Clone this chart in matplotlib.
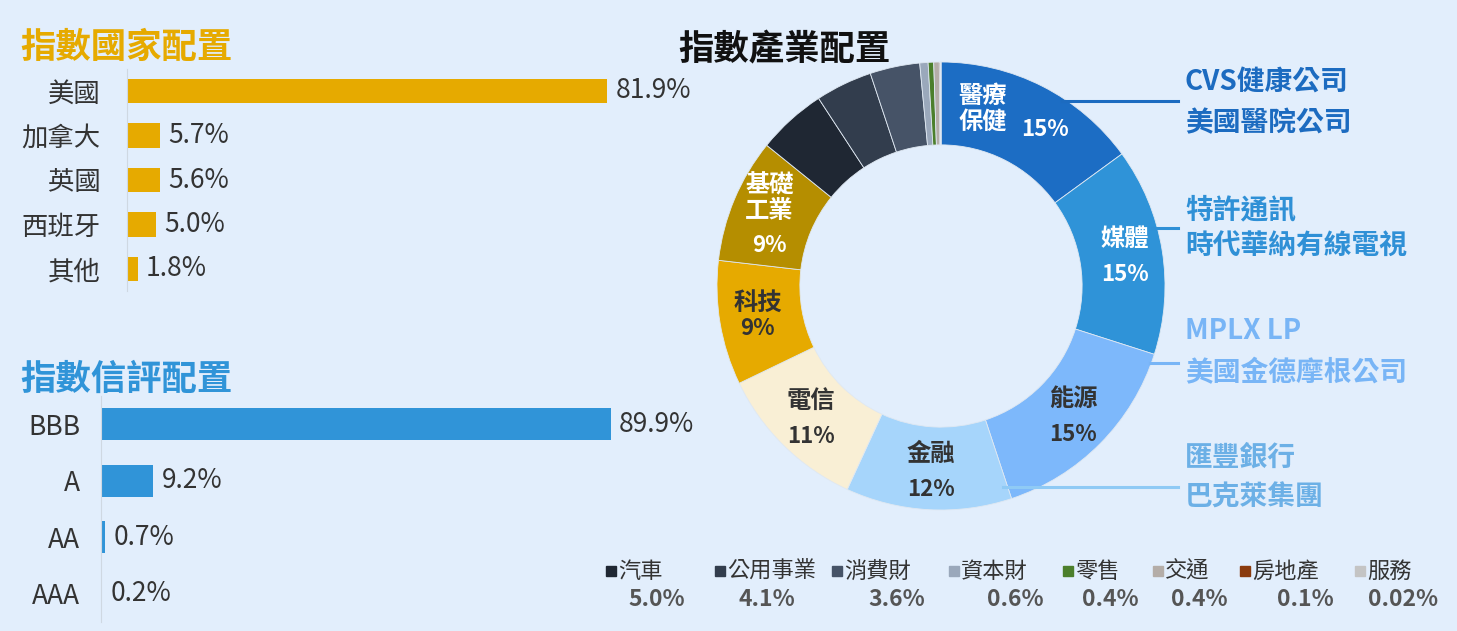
import numpy as np
import matplotlib.pyplot as plt

plt.rcParams['font.family'] = ['Noto Sans CJK TC', 'DejaVu Sans']

# 指數國家配置
countries = ['美國', '加拿大', '英國', '西班牙', '其他']
country_pct = [81.9, 5.7, 5.6, 5.0, 1.8]

# 指數信評配置
ratings = ['BBB', 'A', 'AA', 'AAA']
rating_pct = [89.9, 9.2, 0.7, 0.2]

# 指數產業配置
sectors = ['醫療保健', '媒體', '能源', '金融', '電信', '科技', '基礎工業',
           '汽車', '公用事業', '消費財', '資本財', '零售', '交通', '房地產', '服務']
sector_pct = [15, 15, 15, 12, 11, 9, 9, 5.0, 4.1, 3.6, 0.6, 0.4, 0.4, 0.1, 0.02]
sector_labels = ['15%', '15%', '15%', '12%', '11%', '9%', '9%',
                 '5.0%', '4.1%', '3.6%', '0.6%', '0.4%', '0.4%', '0.1%', '0.02%']
sector_colors = ['#1c6dc4', '#2f93d8', '#7db8fb', '#a6d5fb', '#f9efd5', '#e6aa00', '#b58e00',
                 '#1f2733', '#323d4d', '#465367', '#9aa8bb', '#4c7f2c', '#b4ada8', '#8a3b0e', '#c4c4c4']

# 代表成分
holdings = [['CVS健康公司', '美國醫院公司'],
            ['特許通訊', '時代華納有線電視'],
            ['MPLX LP', '美國金德摩根公司'],
            ['匯豐銀行', '巴克萊集團']]
holding_colors = ['#1c6bc0', '#2f90d6', '#78b5f6', '#6cb0e6']
line_colors = ['#1c6bc0', '#2f90d6', '#78b5f6', '#8fcaf5']

bg = '#e2eefc'
W, H = 1457, 631
fig = plt.figure(figsize=(W / 100, H / 100), dpi=100, facecolor=bg)


def px_axes(x0, y0, x1, y1):
    return fig.add_axes([x0 / W, 1 - y1 / H, (x1 - x0) / W, (y1 - y0) / H])


# ---- 國家 bar
ax1 = px_axes(127, 68.75, 127 + 586, 291.25)
ax1.set_facecolor('none')
b1 = ax1.barh(range(len(countries)), country_pct, height=0.54, color='#e6aa00')
ax1.set_xlim(0, 100)
ax1.set_ylim(len(countries) - 0.5, -0.5)
ax1.set_yticks(range(len(countries)))
ax1.set_yticklabels(countries, fontsize=19, color='#333333')
ax1.tick_params(axis='y', length=0, pad=19)
ax1.set_xticks([])
for s in ['top', 'right', 'bottom']:
    ax1.spines[s].set_visible(False)
ax1.spines['left'].set_color('#cfd8e2')
ax1.bar_label(b1, labels=[f'{v:.1f}%' for v in country_pct], padding=6, fontsize=19, color='#333333')

# ---- 信評 bar
ax2 = px_axes(101, 395.7, 101 + 567, 622.3)
ax2.set_facecolor('none')
b2 = ax2.barh(range(len(ratings)), rating_pct, height=0.56, color='#3094d8')
ax2.set_xlim(0, 100)
ax2.set_ylim(len(ratings) - 0.5, -0.5)
ax2.set_yticks(range(len(ratings)))
ax2.set_yticklabels(ratings, fontsize=19, color='#333333')
ax2.tick_params(axis='y', length=0, pad=15)
ax2.set_xticks([])
for s in ['top', 'right', 'bottom']:
    ax2.spines[s].set_visible(False)
ax2.spines['left'].set_color('#cfd8e2')
ax2.bar_label(b2, labels=[f'{v:.1f}%' for v in rating_pct], padding=6, fontsize=19, color='#333333')

# ---- donut
cx, cy, R = 941, 286, 224
axp = px_axes(cx - 300, cy - 300, cx + 300, cy + 300)
axp.set_facecolor('none')
wedges, _ = axp.pie(sector_pct, colors=sector_colors, startangle=90, counterclock=False,
                    radius=1, wedgeprops=dict(width=0.37, edgecolor='#dfe8f2', linewidth=0.6))
axp.set_xlim(-300 / R, 300 / R)
axp.set_ylim(-300 / R, 300 / R)
axp.set_aspect('equal')
axp.axis('off')

inner_text = {0: ('醫療\n保健', 'white'), 1: ('媒體', 'white'), 2: ('能源', '#333333'),
              3: ('金融', '#333333'), 4: ('電信', '#333333'), 5: ('科技', '#333333'),
              6: ('基礎\n工業', 'white')}
for i, (name, col) in inner_text.items():
    w = wedges[i]
    ang = np.deg2rad((w.theta1 + w.theta2) / 2)
    x, y = 0.83 * np.cos(ang), 0.83 * np.sin(ang)
    if i == 0:
        axp.text(x - 0.19, y + 0.05, name, ha='center', va='center', fontsize=17.5,
                 color=col, fontweight='bold', linespacing=1.1)
        axp.text(x + 0.09, y - 0.04, sector_labels[i], ha='center', va='center', fontsize=16,
                 color=col, fontweight='bold')
    elif i == 6:
        axp.text(x, y + 0.07, name, ha='center', va='center', fontsize=17.5, color=col,
                 fontweight='bold', linespacing=1.1)
        axp.text(x, y - 0.14, sector_labels[i], ha='center', va='center', fontsize=16,
                 color=col, fontweight='bold')
    elif i == 5:
        axp.text(x, y + 0.06, name, ha='center', va='center', fontsize=17.5, color=col, fontweight='bold')
        axp.text(x, y - 0.05, sector_labels[i], ha='center', va='center', fontsize=16,
                 color=col, fontweight='bold')
    else:
        axp.text(x, y + 0.08, name, ha='center', va='center', fontsize=17.5, color=col, fontweight='bold')
        axp.text(x, y - 0.08, sector_labels[i], ha='center', va='center', fontsize=16,
                 color=col, fontweight='bold')

# ---- overlay for titles, callouts and legend (pixel coordinates)
ov = fig.add_axes([0, 0, 1, 1])
ov.set_xlim(0, W)
ov.set_ylim(H, 0)
ov.axis('off')
ov.patch.set_visible(False)

ov.text(20, 47, '指數國家配置', fontsize=25.5, fontweight='bold', color='#e6aa00', va='center')
ov.text(20, 379, '指數信評配置', fontsize=25.5, fontweight='bold', color='#3094d8', va='center')
ov.text(678, 50, '指數產業配置', fontsize=25.5, fontweight='bold', color='#111111', va='center')

line_y = [101, 228, 363, 487]
line_x0 = [1062, 1152, 1150, 1003]
text_y = [(82, 123), (210, 247), (331, 373), (458, 498)]
for k in range(4):
    ov.plot([line_x0[k], 1178], [line_y[k], line_y[k]], color=line_colors[k], lw=2.2)
    for j in range(2):
        ov.text(1185, text_y[k][j], holdings[k][j], fontsize=20, fontweight='bold',
                color=holding_colors[k], va='center')

leg_marker_x = [611, 720, 837, 954, 1068, 1158, 1245, 1360]
leg_value_x = [657, 767, 897, 1015, 1110, 1199, 1305, 1403]
for n, i in enumerate(range(7, 15)):
    ov.plot(leg_marker_x[n], 571, marker='s', ms=7.5, color=sector_colors[i], lw=0)
    ov.text(leg_marker_x[n] + 7, 571, sectors[i], fontsize=16, color='#333333', va='center')
    ov.text(leg_value_x[n], 600, sector_labels[i], fontsize=16.5, fontweight='bold',
            color='#555555', va='center', ha='center')

fig.savefig('out.png', dpi=100, facecolor=bg)
